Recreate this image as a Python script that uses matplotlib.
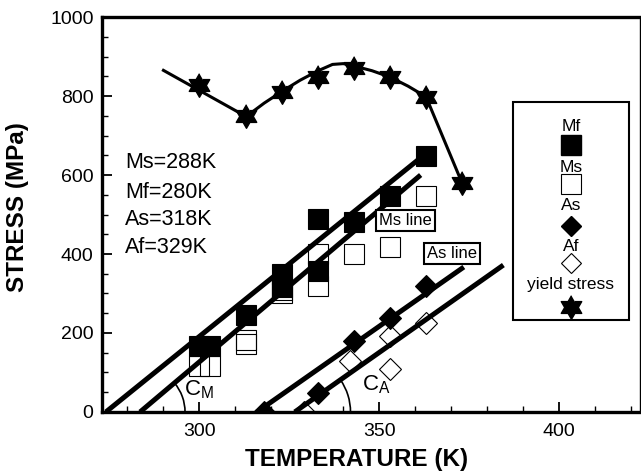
import numpy as np
import matplotlib.pyplot as plt
from matplotlib.patches import Arc, Rectangle

plt.rcParams['font.family'] = ['Liberation Sans', 'DejaVu Sans']
plt.rcParams['mathtext.fontset'] = 'custom'
plt.rcParams['mathtext.rm'] = 'Liberation Sans'
plt.rcParams['mathtext.it'] = 'Liberation Sans'

# measured points (temperature K, stress MPa)
mf_T = [300, 303, 313, 323, 323, 333, 333, 343, 353, 363]
mf_S = [168, 168, 245, 349, 316, 357, 489, 481, 547, 648]
ms_T = [300, 303, 313, 313, 323, 323, 333, 333, 343, 353, 363]
ms_S = [116, 116, 182, 172, 310, 300, 400, 319, 400, 418, 548]
as_T = [318, 333, 343, 353, 363]
as_S = [0, 48, 180, 237, 320]
af_T = [329, 342, 353, 353, 363]
af_S = [0, 130, 192, 110, 225]
ys_T = [300, 313, 323, 333, 343, 353, 363, 373]
ys_S = [828, 749, 810, 848, 870, 848, 798, 580]

# fitted yield stress curve
fit_T = [290, 313, 318, 323, 328, 333, 337, 340, 343, 348, 353, 358, 363, 373]
fit_S = [865, 748, 782, 812, 840, 864, 880, 882, 876, 864, 848, 825, 798, 580]

# straight transformation lines (start, end)
mf_line_T = [274, 361]
mf_line_S = [0, 640]
ms_line_T = [283.5, 361.5]
ms_line_S = [0, 600]
as_line_T = [316, 373.5]
as_line_S = [0, 367]
af_line_T = [326.5, 384.5]
af_line_S = [0, 372]

temps_text = ['Ms=288K', 'Mf=280K', 'As=318K', 'Af=329K']

# six pointed star marker
ang = np.deg2rad(90 + 30 * np.arange(12))
rad = np.where(np.arange(12) % 2 == 0, 1.0, 1 / np.sqrt(3))
star = list(zip(rad * np.cos(ang), rad * np.sin(ang)))

fig = plt.figure(figsize=(6.41, 4.73), dpi=100)
ax = fig.add_axes([0.159, 0.129, 0.839, 0.835])

# markers
ax.plot(ms_T, ms_S, 's', ms=15, mfc='none', mec='black', mew=0.8, zorder=2)
ax.plot(mf_T, mf_S, 's', ms=15, mfc='black', mec='black', mew=0.8, zorder=3)
ax.plot(af_T, af_S, 'D', ms=11, mfc='white', mec='black', mew=0.8, zorder=2)
ax.plot(as_T, as_S, 'D', ms=11, mfc='black', mec='black', mew=0.8, zorder=3)
ax.plot(ys_T, ys_S, ls='none', marker=star, ms=17, color='black', zorder=3)

# lines
lw = 3.6
ax.plot(mf_line_T, mf_line_S, color='black', lw=lw, solid_capstyle='butt', zorder=4)
ax.plot(ms_line_T, ms_line_S, color='black', lw=lw, solid_capstyle='butt', zorder=4)
ax.plot(as_line_T, as_line_S, color='black', lw=lw, solid_capstyle='butt', zorder=4)
ax.plot(af_line_T, af_line_S, color='black', lw=lw, solid_capstyle='butt', zorder=4)
ax.plot(fit_T, fit_S, color='black', lw=2.2, zorder=4)

ax.set_xlim(272.9, 422.4)
ax.set_ylim(0, 1000)

# angle arcs
def slope_deg(T, S):
    return np.degrees(np.arctan2(S[1] - S[0], T[1] - T[0]))

ax.add_patch(Arc((ms_line_T[0], 0), 25, 228, theta1=0,
                 theta2=slope_deg(ms_line_T, ms_line_S), lw=1.2, color='black'))
ax.add_patch(Arc((af_line_T[0], 0), 31, 284, theta1=0,
                 theta2=slope_deg(af_line_T, af_line_S), lw=1.2, color='black'))
ax.text(295.8, 56, r'$\mathregular{C_M}$', fontsize=16, va='center', ha='left')
ax.text(345.3, 68, r'$\mathregular{C_A}$', fontsize=16, va='center', ha='left')

# transformation temperatures
for txt, yv in zip(temps_text, [632, 556, 487, 416]):
    ax.text(279.3, yv, txt, fontsize=15.5, va='center', ha='left')

box = dict(boxstyle='square,pad=0.18', fc='white', ec='black', lw=1.5)
ax.text(357.3, 486, 'Ms line', fontsize=12, ha='center', va='center', bbox=box, zorder=6)
ax.text(370.1, 402, 'As line', fontsize=12, ha='center', va='center', bbox=box, zorder=6)

# legend box
ax.add_patch(Rectangle((0.764, 0.233), 0.216, 0.552, transform=ax.transAxes,
                       fc='white', ec='black', lw=1.5, zorder=5))
lx = 0.872
tr = ax.transAxes
for lab, yv in zip(['Mf', 'Ms', 'As', 'Af', 'yield stress'],
                   [0.722, 0.618, 0.522, 0.418, 0.322]):
    ax.text(lx, yv, lab, fontsize=12.5, ha='center', va='center', transform=tr, zorder=6)
ax.plot(lx, 0.676, 's', ms=15, mfc='black', mec='black', transform=tr, zorder=6)
ax.plot(lx, 0.577, 's', ms=14, mfc='white', mec='black', mew=0.8, transform=tr, zorder=6)
ax.plot(lx, 0.471, 'D', ms=10.5, mfc='black', mec='black', transform=tr, zorder=6)
ax.plot(lx, 0.377, 'D', ms=10.5, mfc='white', mec='black', mew=0.8, transform=tr, zorder=6)
ax.plot(lx, 0.266, ls='none', marker=star, ms=17, color='black', transform=tr, zorder=6)

# axes styling
ax.set_xticks([300, 350, 400])
ax.set_xticks(np.arange(280, 421, 10), minor=True)
ax.set_yticks(np.arange(0, 1001, 200))
ax.set_yticks(np.arange(0, 1001, 50), minor=True)
ax.tick_params(which='major', direction='in', length=7, width=1.3, labelsize=14)
ax.tick_params(which='minor', direction='in', length=4, width=1)
ax.tick_params(axis='x', which='major', pad=8)
ax.tick_params(axis='y', which='major', pad=6)
for s in ['left', 'bottom', 'top']:
    ax.spines[s].set_linewidth(2.4)
ax.spines['right'].set_linewidth(1)

ax.set_xlabel('TEMPERATURE (K)', fontsize=17.5, fontweight='bold')
ax.set_ylabel('STRESS (MPa)', fontsize=17.5, fontweight='bold')
ax.xaxis.set_label_coords(0.474, -0.09)
ax.yaxis.set_label_coords(-0.136, 0.519)

fig.savefig('out.png', dpi=100)
